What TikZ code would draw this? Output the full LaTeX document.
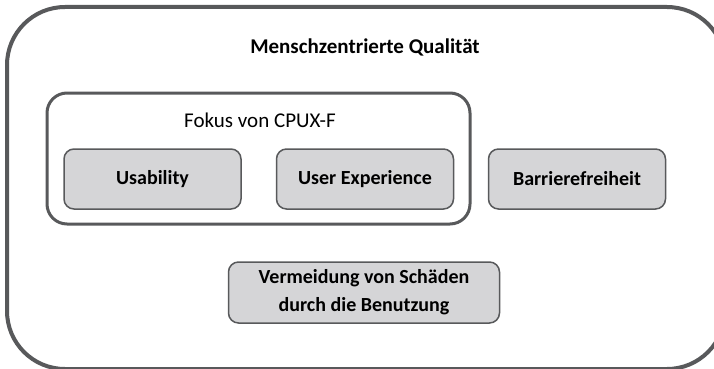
\documentclass[tikz,border=0pt]{standalone}
\usepackage{fontspec}
\setmainfont{Carlito}
\definecolor{edge}{HTML}{58595B}
\definecolor{boxfill}{HTML}{D5D5D7}
\begin{document}
\begin{tikzpicture}[x=1pt,y=-1pt,
  outerbox/.style={draw=edge,line width=4pt,rounded corners=58pt,minimum width=718pt,minimum height=362pt,inner sep=0pt},
  focusbox/.style={draw=edge,line width=3pt,rounded corners=20pt,minimum width=423pt,minimum height=131pt,inner sep=0pt},
  item/.style={draw=edge,fill=boxfill,line width=1.5pt,rounded corners=10pt,minimum width=177pt,minimum height=60pt,inner sep=0pt,font=\fontsize{20}{28}\selectfont\bfseries,align=center},
  lbl/.style={inner sep=0pt}]
\useasboundingbox (0,0) rectangle (714,369);
\clip (0,0) rectangle (714,369);
\node[outerbox] (outer) at (366,188) {};
\node[lbl,font=\fontsize{21}{24}\selectfont\bfseries] (title) at (365,47) {Menschzentrierte Qualität};
\node[focusbox] (focus) at (258.5,158.5) {};
\node[lbl,font=\fontsize{21}{24}\selectfont] (focuslbl) at (260,120) {Fokus von CPUX-F};
\node[item] (usab) at (152.5,179) {Usability};
\node[item] (ux) at (365,179) {User Experience};
\node[item] (barr) at (577,179) {Barrierefreiheit};
\node[item,minimum width=271pt,minimum height=61pt] (harm) at (364,292.5) {Vermeidung von Schäden\\durch die Benutzung};
\end{tikzpicture}
\end{document}
